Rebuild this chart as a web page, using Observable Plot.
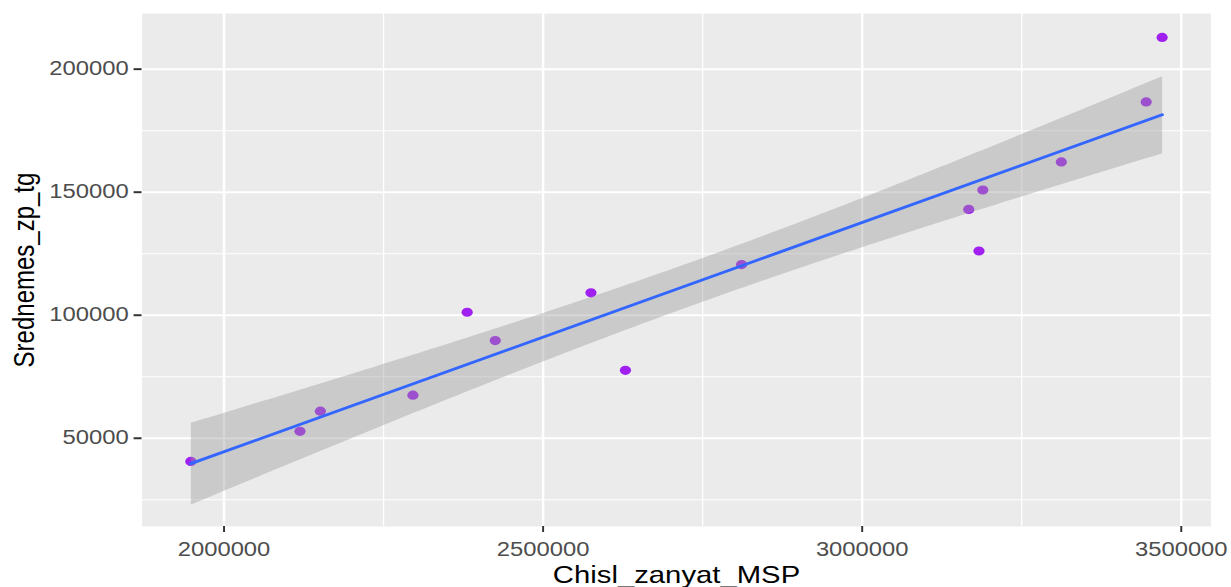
<!DOCTYPE html>
<html>
<head>
<meta charset="utf-8">
<script src="https://cdn.jsdelivr.net/npm/d3@7"></script>
<script src="https://cdn.jsdelivr.net/npm/@observablehq/plot@0.6"></script>
<style>
  html, body { margin: 0; padding: 0; background: #ffffff; }
  #chart { width: 1231px; height: 587px; overflow: hidden; }
</style>
</head>
<body>
<div id="chart"></div>
<script>
// Data
const chislZanyatMSP = [1948000, 2119000, 2151000, 2296000, 2381000, 2425000, 2575000, 2629000, 2811000, 3167000, 3183000, 3189000, 3312000, 3445000, 3470000];
const srednemesZpTg  = [40600, 52800, 61000, 67500, 101200, 89700, 109100, 77600, 120600, 143000, 126100, 150900, 162300, 186700, 212900];

const xTicks = [2000000, 2500000, 3000000, 3500000];
const xMinor = [2250000, 2750000, 3250000];
const yTicks = [50000, 100000, 150000, 200000];
const yMinor = [25000, 75000, 125000, 175000];

const xTitle = "Chisl_zanyat_MSP";
const yTitle = "Srednemes_zp_tg";

const data = chislZanyatMSP.map((x, i) => ({x, y: srednemesZpTg[i]}));

// The reference is horizontally stretched; draw at a narrower width and stretch.
const STRETCH = 1.22;
const W = 1231, H = 587;
const innerW = W / STRETCH;

const svg = Plot.plot({
  width: innerW,
  height: H,
  marginLeft: 116,
  marginRight: 17,
  marginTop: 13,
  marginBottom: 61,
  style: {fontFamily: "'Liberation Sans', Arial, sans-serif", background: "#ffffff", overflow: "visible"},
  x: {domain: [1871670, 3546380]},
  y: {domain: [14135, 222624]},
  marks: [
    Plot.frame({fill: "#EBEBEB", stroke: "none"}),
    Plot.ruleX(xMinor, {stroke: "#ffffff", strokeWidth: 1.1}),
    Plot.ruleY(yMinor, {stroke: "#ffffff", strokeWidth: 1.1}),
    Plot.ruleX(xTicks, {stroke: "#ffffff", strokeWidth: 2}),
    Plot.ruleY(yTicks, {stroke: "#ffffff", strokeWidth: 2}),
    Plot.dot(data, {x: "x", y: "y", r: 4.6, fill: "#A020F0", stroke: "none"}),
    Plot.linearRegressionY(data, {x: "x", y: "y", ci: 0.95, stroke: "#3366FF", strokeWidth: 2.9, fill: "#999999", fillOpacity: 0.4}),
    Plot.axisX(xTicks, {tickFormat: d => String(d), tickSize: 6, tickPadding: 10, fontSize: 19.5, fill: "#4D4D4D", stroke: "#333333", strokeWidth: 1.6, label: null}),
    Plot.axisY(yTicks, {tickFormat: d => String(d), tickSize: 6.5, tickPadding: 4.5, fontSize: 19.5, fill: "#4D4D4D", stroke: "#333333", strokeWidth: 2, label: null}),
    Plot.text([xTitle], {frameAnchor: "bottom", textAnchor: "middle", lineAnchor: "bottom", dy: 56, text: d => d, fontSize: 24, fill: "#000000"}),
    Plot.text([yTitle], {frameAnchor: "left", textAnchor: "middle", lineAnchor: "bottom", rotate: -90, dx: -88.7, text: d => d, fontSize: 24, fill: "#000000"})
  ]
});

svg.setAttribute("width", W);
svg.setAttribute("height", H);
svg.setAttribute("preserveAspectRatio", "none");
svg.style.width = W + "px";
svg.style.height = H + "px";
svg.style.maxWidth = "none";
svg.style.display = "block";
document.getElementById("chart").appendChild(svg);
</script>
</body>
</html>
